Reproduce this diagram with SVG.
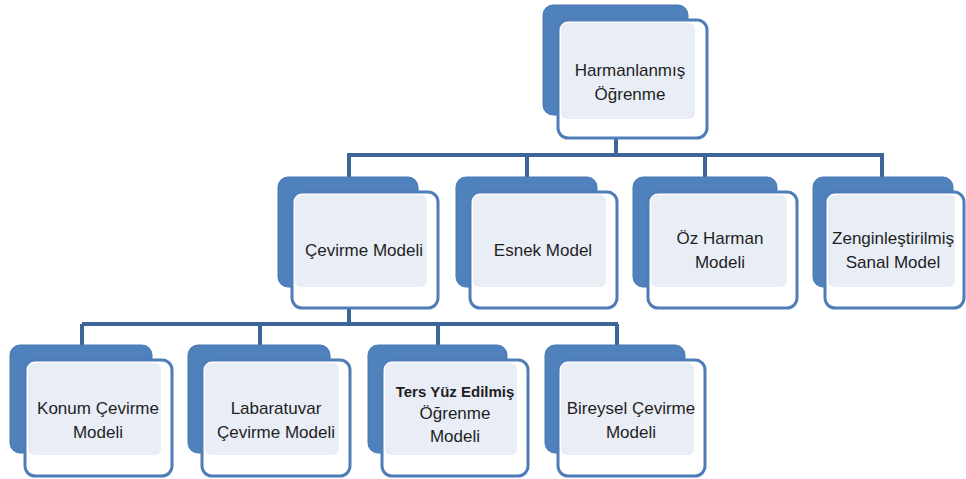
<svg xmlns="http://www.w3.org/2000/svg" width="966" height="479" viewBox="0 0 966 479">
<style>
.back{fill:#4F81BD;stroke:#4A78B2;stroke-width:1}
.front{fill:#FFFFFF;stroke:#4F7DB8;stroke-width:3}
.inner{fill:#E8EDF6}
.t{font-family:"Liberation Sans",Arial,sans-serif;font-size:17px;fill:#1F1F1F;text-anchor:middle}
.b{font-weight:bold;font-size:15px}
.conn{fill:none;stroke:#3D6598;stroke-width:4}
</style>
<rect width="966" height="479" fill="#FFFFFF"/>
<g id="connectors" class="conn">
<path d="M616 138 V155 M347 155 H884 M349 155 V177 M527 155 V177 M705 155 V177 M882 155 V177"/>
<path d="M349 308 V324 M82 324 H618 M82 324 V345 M260 324 V345 M438 324 V345 M617 324 V345"/>
</g>
<g id="n-harmanlanmis">
<rect class="back" x="543" y="5" width="145" height="110" rx="10"/>
<rect class="front" x="558" y="20" width="149" height="118" rx="10"/>
<rect class="inner" x="561" y="23" width="134" height="96" rx="6"/>
<text class="t" x="630" y="76">Harmanlanmış</text>
<text class="t" x="630" y="100">Öğrenme</text>
</g>
<g id="n-cevirme">
<rect class="back" x="278" y="177" width="140" height="110" rx="10"/>
<rect class="front" x="292" y="192" width="146" height="116" rx="10"/>
<rect class="inner" x="295" y="195" width="132" height="92" rx="6"/>
<text class="t" x="364" y="256">Çevirme Modeli</text>
</g>
<g id="n-esnek">
<rect class="back" x="456" y="177" width="141" height="110" rx="10"/>
<rect class="front" x="470" y="192" width="147" height="116" rx="10"/>
<rect class="inner" x="473" y="195" width="133" height="92" rx="6"/>
<text class="t" x="543" y="256">Esnek Model</text>
</g>
<g id="n-ozharman">
<rect class="back" x="633" y="177" width="144" height="110" rx="10"/>
<rect class="front" x="648" y="192" width="149" height="116" rx="10"/>
<rect class="inner" x="651" y="195" width="136" height="92" rx="6"/>
<text class="t" x="720" y="244">Öz Harman</text>
<text class="t" x="720" y="268">Modeli</text>
</g>
<g id="n-zengin">
<rect class="back" x="813" y="177" width="140" height="110" rx="10"/>
<rect class="front" x="825" y="192" width="139" height="116" rx="10"/>
<rect class="inner" x="828" y="195" width="127" height="92" rx="6"/>
<text class="t" x="893" y="244">Zenginleştirilmiş</text>
<text class="t" x="893" y="268">Sanal Model</text>
</g>
<g id="n-konum">
<rect class="back" x="10" y="345" width="142" height="108" rx="10"/>
<rect class="front" x="25" y="360" width="147" height="116" rx="10"/>
<rect class="inner" x="28" y="363" width="133" height="92" rx="6"/>
<text class="t" x="98" y="414">Konum Çevirme</text>
<text class="t" x="98" y="438">Modeli</text>
</g>
<g id="n-labaratuvar">
<rect class="back" x="188" y="345" width="142" height="108" rx="10"/>
<rect class="front" x="202" y="360" width="148" height="116" rx="10"/>
<rect class="inner" x="205" y="363" width="134" height="92" rx="6"/>
<text class="t" x="276" y="414">Labaratuvar</text>
<text class="t" x="276" y="438">Çevirme Modeli</text>
</g>
<g id="n-tersyuz">
<rect class="back" x="368" y="345" width="139" height="108" rx="10"/>
<rect class="front" x="382" y="360" width="146" height="116" rx="10"/>
<rect class="inner" x="385" y="363" width="132" height="92" rx="6"/>
<text class="t b" x="455" y="397">Ters Yüz Edilmiş</text>
<text class="t" x="455" y="419">Öğrenme</text>
<text class="t" x="455" y="442">Modeli</text>
</g>
<g id="n-bireysel">
<rect class="back" x="545" y="345" width="140" height="108" rx="10"/>
<rect class="front" x="558" y="360" width="147" height="116" rx="10"/>
<rect class="inner" x="561" y="363" width="133" height="92" rx="6"/>
<text class="t" x="631" y="414">Bireysel Çevirme</text>
<text class="t" x="631" y="438">Modeli</text>
</g>
</svg>
